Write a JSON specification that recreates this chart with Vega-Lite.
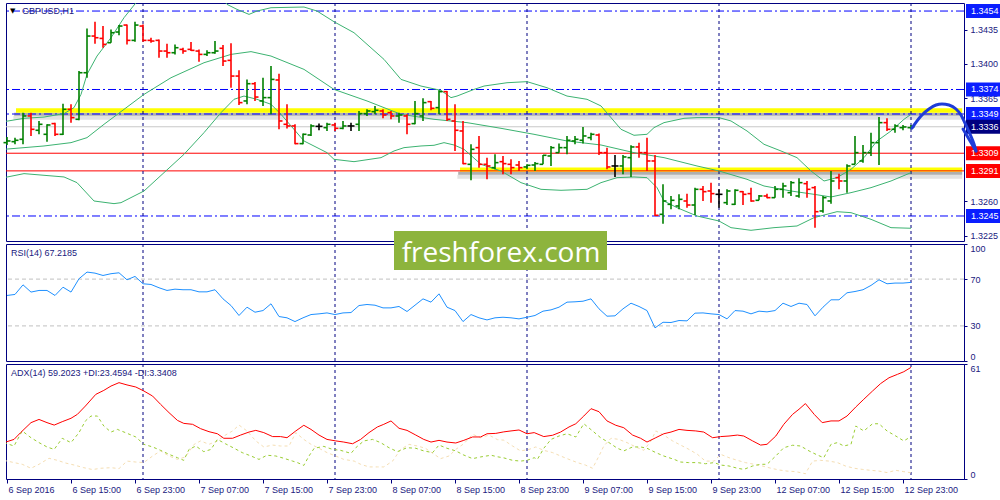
{
"$schema": "https://vega.github.io/schema/vega-lite/v6.json",
"padding": {"left": 2, "top": 2, "right": 0, "bottom": 0},
"background": "#ffffff",
"bounds": "flush",
"spacing": 3,
"config": {
  "font": "Liberation Sans",
  "view": {"stroke": "#000080", "strokeWidth": 1},
  "axis": {"labelFont": "Liberation Sans", "labelFontSize": 9, "labelColor": "#202080", "domainColor": "#000080", "tickColor": "#000080", "grid": false, "title": null, "labelOverlap": false, "labelBound": false}
},
"datasets": {
  "bars": [
    {"i":0,"o":1.33198,"h":1.33256,"l":1.33174,"c":1.33215},
    {"i":1,"o":1.33208,"h":1.33249,"l":1.33181,"c":1.33222},
    {"i":2,"o":1.33232,"h":1.33504,"l":1.33181,"c":1.33470},
    {"i":3,"o":1.33470,"h":1.33504,"l":1.33266,"c":1.33334},
    {"i":4,"o":1.33324,"h":1.33419,"l":1.33283,"c":1.33385},
    {"i":5,"o":1.33283,"h":1.33385,"l":1.33208,"c":1.33378},
    {"i":6,"o":1.33392,"h":1.33402,"l":1.33266,"c":1.33283},
    {"i":7,"o":1.33283,"h":1.33595,"l":1.33276,"c":1.33538},
    {"i":8,"o":1.33538,"h":1.33589,"l":1.33402,"c":1.33453},
    {"i":9,"o":1.33436,"h":1.33928,"l":1.33426,"c":1.33911},
    {"i":10,"o":1.33911,"h":1.34363,"l":1.33860,"c":1.34285},
    {"i":11,"o":1.34285,"h":1.34431,"l":1.34207,"c":1.34268},
    {"i":12,"o":1.34261,"h":1.34387,"l":1.34166,"c":1.34200},
    {"i":13,"o":1.34217,"h":1.34353,"l":1.34217,"c":1.34319},
    {"i":14,"o":1.34326,"h":1.34397,"l":1.34292,"c":1.34387},
    {"i":15,"o":1.34397,"h":1.34404,"l":1.34200,"c":1.34241},
    {"i":16,"o":1.34241,"h":1.34431,"l":1.34227,"c":1.34397},
    {"i":17,"o":1.34387,"h":1.34404,"l":1.34227,"c":1.34241},
    {"i":18,"o":1.34241,"h":1.34268,"l":1.34217,"c":1.34234},
    {"i":19,"o":1.34241,"h":1.34251,"l":1.34064,"c":1.34132},
    {"i":20,"o":1.34132,"h":1.34207,"l":1.34064,"c":1.34115},
    {"i":21,"o":1.34115,"h":1.34200,"l":1.34098,"c":1.34166},
    {"i":22,"o":1.34149,"h":1.34166,"l":1.34105,"c":1.34132},
    {"i":23,"o":1.34149,"h":1.34224,"l":1.34132,"c":1.34139},
    {"i":24,"o":1.34132,"h":1.34149,"l":1.34024,"c":1.34098},
    {"i":25,"o":1.34098,"h":1.34139,"l":1.34081,"c":1.34115},
    {"i":26,"o":1.34115,"h":1.34234,"l":1.34105,"c":1.34132},
    {"i":27,"o":1.34160,"h":1.34194,"l":1.33979,"c":1.34030},
    {"i":28,"o":1.34037,"h":1.34211,"l":1.33758,"c":1.33877},
    {"i":29,"o":1.33877,"h":1.33935,"l":1.33582,"c":1.33606},
    {"i":30,"o":1.33623,"h":1.33843,"l":1.33589,"c":1.33799},
    {"i":31,"o":1.33799,"h":1.33816,"l":1.33623,"c":1.33663},
    {"i":32,"o":1.33623,"h":1.33860,"l":1.33572,"c":1.33657},
    {"i":33,"o":1.33657,"h":1.33979,"l":1.33487,"c":1.33843},
    {"i":34,"o":1.33837,"h":1.33901,"l":1.33334,"c":1.33419},
    {"i":35,"o":1.33385,"h":1.33589,"l":1.33341,"c":1.33368},
    {"i":36,"o":1.33368,"h":1.33385,"l":1.33181,"c":1.33188},
    {"i":37,"o":1.33188,"h":1.33290,"l":1.33181,"c":1.33283},
    {"i":38,"o":1.33276,"h":1.33385,"l":1.33266,"c":1.33368},
    {"i":39,"o":1.33364,"h":1.33392,"l":1.33324,"c":1.33364},
    {"i":40,"o":1.33351,"h":1.33402,"l":1.33317,"c":1.33385},
    {"i":41,"o":1.33378,"h":1.33402,"l":1.33317,"c":1.33344},
    {"i":42,"o":1.33344,"h":1.33419,"l":1.33334,"c":1.33368},
    {"i":43,"o":1.33368,"h":1.33402,"l":1.33317,"c":1.33368},
    {"i":44,"o":1.33385,"h":1.33521,"l":1.33317,"c":1.33494},
    {"i":45,"o":1.33494,"h":1.33538,"l":1.33470,"c":1.33521},
    {"i":46,"o":1.33514,"h":1.33572,"l":1.33487,"c":1.33528},
    {"i":47,"o":1.33521,"h":1.33538,"l":1.33446,"c":1.33480},
    {"i":48,"o":1.33504,"h":1.33521,"l":1.33436,"c":1.33470},
    {"i":49,"o":1.33470,"h":1.33504,"l":1.33402,"c":1.33480},
    {"i":50,"o":1.33470,"h":1.33487,"l":1.33283,"c":1.33385},
    {"i":51,"o":1.33392,"h":1.33623,"l":1.33385,"c":1.33494},
    {"i":52,"o":1.33470,"h":1.33650,"l":1.33419,"c":1.33606},
    {"i":53,"o":1.33616,"h":1.33623,"l":1.33528,"c":1.33548},
    {"i":54,"o":1.33555,"h":1.33731,"l":1.33487,"c":1.33718},
    {"i":55,"o":1.33718,"h":1.33725,"l":1.33419,"c":1.33436},
    {"i":56,"o":1.33419,"h":1.33589,"l":1.33113,"c":1.33324},
    {"i":57,"o":1.33317,"h":1.33419,"l":1.32977,"c":1.32984},
    {"i":58,"o":1.32977,"h":1.33181,"l":1.32814,"c":1.33130},
    {"i":59,"o":1.33147,"h":1.33266,"l":1.32943,"c":1.32977},
    {"i":60,"o":1.32977,"h":1.33045,"l":1.32824,"c":1.32960},
    {"i":61,"o":1.32943,"h":1.33079,"l":1.32926,"c":1.32994},
    {"i":62,"o":1.33004,"h":1.33062,"l":1.32875,"c":1.32984},
    {"i":63,"o":1.32977,"h":1.33028,"l":1.32875,"c":1.32943},
    {"i":64,"o":1.32970,"h":1.33011,"l":1.32909,"c":1.32943},
    {"i":65,"o":1.32950,"h":1.32977,"l":1.32926,"c":1.32967},
    {"i":66,"o":1.32970,"h":1.33001,"l":1.32909,"c":1.32984},
    {"i":67,"o":1.32977,"h":1.33072,"l":1.32977,"c":1.33069},
    {"i":68,"o":1.33062,"h":1.33164,"l":1.32960,"c":1.33147},
    {"i":69,"o":1.33096,"h":1.33188,"l":1.33096,"c":1.33147},
    {"i":70,"o":1.33147,"h":1.33266,"l":1.33079,"c":1.33222},
    {"i":71,"o":1.33215,"h":1.33266,"l":1.33181,"c":1.33232},
    {"i":72,"o":1.33222,"h":1.33358,"l":1.33188,"c":1.33266},
    {"i":73,"o":1.33249,"h":1.33300,"l":1.33222,"c":1.33283},
    {"i":74,"o":1.33276,"h":1.33290,"l":1.33072,"c":1.33096},
    {"i":75,"o":1.33096,"h":1.33147,"l":1.32926,"c":1.32950},
    {"i":76,"o":1.32960,"h":1.33072,"l":1.32848,"c":1.32960},
    {"i":77,"o":1.32960,"h":1.33072,"l":1.32875,"c":1.33052},
    {"i":78,"o":1.33045,"h":1.33171,"l":1.32848,"c":1.33154},
    {"i":79,"o":1.33154,"h":1.33198,"l":1.33045,"c":1.33096},
    {"i":80,"o":1.33096,"h":1.33249,"l":1.32909,"c":1.33011},
    {"i":81,"o":1.33011,"h":1.33072,"l":1.32450,"c":1.32457},
    {"i":82,"o":1.32467,"h":1.32773,"l":1.32372,"c":1.32603},
    {"i":83,"o":1.32569,"h":1.32654,"l":1.32518,"c":1.32610},
    {"i":84,"o":1.32552,"h":1.32671,"l":1.32518,"c":1.32620},
    {"i":85,"o":1.32603,"h":1.32678,"l":1.32535,"c":1.32562},
    {"i":86,"o":1.32562,"h":1.32739,"l":1.32460,"c":1.32722},
    {"i":87,"o":1.32722,"h":1.32756,"l":1.32603,"c":1.32698},
    {"i":88,"o":1.32705,"h":1.32790,"l":1.32586,"c":1.32678},
    {"i":89,"o":1.32671,"h":1.32722,"l":1.32535,"c":1.32671},
    {"i":90,"o":1.32586,"h":1.32722,"l":1.32562,"c":1.32705},
    {"i":91,"o":1.32569,"h":1.32722,"l":1.32562,"c":1.32712},
    {"i":92,"o":1.32698,"h":1.32705,"l":1.32562,"c":1.32671},
    {"i":93,"o":1.32678,"h":1.32739,"l":1.32596,"c":1.32603},
    {"i":94,"o":1.32610,"h":1.32664,"l":1.32610,"c":1.32654},
    {"i":95,"o":1.32654,"h":1.32678,"l":1.32630,"c":1.32637},
    {"i":96,"o":1.32637,"h":1.32756,"l":1.32637,"c":1.32722},
    {"i":97,"o":1.32722,"h":1.32790,"l":1.32637,"c":1.32756},
    {"i":98,"o":1.32688,"h":1.32807,"l":1.32654,"c":1.32790},
    {"i":99,"o":1.32654,"h":1.32834,"l":1.32637,"c":1.32790},
    {"i":100,"o":1.32780,"h":1.32807,"l":1.32637,"c":1.32722},
    {"i":101,"o":1.32739,"h":1.32756,"l":1.32331,"c":1.32494},
    {"i":102,"o":1.32501,"h":1.32654,"l":1.32484,"c":1.32637},
    {"i":103,"o":1.32603,"h":1.32909,"l":1.32576,"c":1.32807},
    {"i":104,"o":1.32841,"h":1.32882,"l":1.32722,"c":1.32807},
    {"i":105,"o":1.32807,"h":1.32977,"l":1.32688,"c":1.32960},
    {"i":106,"o":1.32977,"h":1.33266,"l":1.32977,"c":1.33096},
    {"i":107,"o":1.33011,"h":1.33174,"l":1.32994,"c":1.33096},
    {"i":108,"o":1.33096,"h":1.33300,"l":1.33062,"c":1.33198},
    {"i":109,"o":1.33198,"h":1.33460,"l":1.32970,"c":1.33402},
    {"i":110,"o":1.33402,"h":1.33446,"l":1.33317,"c":1.33334},
    {"i":111,"o":1.33334,"h":1.33385,"l":1.33300,"c":1.33368},
    {"i":112,"o":1.33351,"h":1.33378,"l":1.33324,"c":1.33358},
    {"i":113,"o":1.33351,"h":1.33378,"l":1.33334,"c":1.33358}
  ],
  "bb": [
    {"b":"upper","i":-0.375,"p":1.33412},{"b":"upper","i":2.125,"p":1.33446},{"b":"upper","i":4.625,"p":1.33459},{"b":"upper","i":7.125,"p":1.33494},{"b":"upper","i":8.375,"p":1.33555},{"b":"upper","i":9.25,"p":1.3369},{"b":"upper","i":10,"p":1.33894},{"b":"upper","i":11.25,"p":1.34081},{"b":"upper","i":13,"p":1.34268},{"b":"upper","i":14.625,"p":1.34472},{"b":"upper","i":16.125,"p":1.34625},{"b":"upper","i":18.375,"p":1.34914},{"b":"upper","i":21.5,"p":1.3505},{"b":"upper","i":24.625,"p":1.34914},{"b":"upper","i":27.5,"p":1.34608},{"b":"upper","i":28.75,"p":1.34557},{"b":"upper","i":30.25,"p":1.34506},{"b":"upper","i":31.25,"p":1.3454},{"b":"upper","i":33,"p":1.34574},{"b":"upper","i":37.125,"p":1.34581},{"b":"upper","i":38.75,"p":1.3454},{"b":"upper","i":40.875,"p":1.34431},{"b":"upper","i":43.375,"p":1.34319},{"b":"upper","i":47.125,"p":1.34047},{"b":"upper","i":49.25,"p":1.33843},{"b":"upper","i":51.75,"p":1.33775},{"b":"upper","i":54.25,"p":1.33731},{"b":"upper","i":55.5,"p":1.33657},{"b":"upper","i":56.25,"p":1.33673},{"b":"upper","i":58.375,"p":1.33741},{"b":"upper","i":59.625,"p":1.33775},{"b":"upper","i":62.5,"p":1.33809},{"b":"upper","i":65,"p":1.3382},{"b":"upper","i":67.5,"p":1.33758},{"b":"upper","i":70,"p":1.33673},{"b":"upper","i":72.5,"p":1.3364},{"b":"upper","i":74.25,"p":1.33572},{"b":"upper","i":75.5,"p":1.33453},{"b":"upper","i":76.75,"p":1.33334},{"b":"upper","i":78.375,"p":1.33273},{"b":"upper","i":80,"p":1.33283},{"b":"upper","i":80.875,"p":1.33351},{"b":"upper","i":82.125,"p":1.33402},{"b":"upper","i":84.625,"p":1.33446},{"b":"upper","i":86.25,"p":1.33453},{"b":"upper","i":89,"p":1.33453},{"b":"upper","i":90.5,"p":1.33419},{"b":"upper","i":92.5,"p":1.33317},{"b":"upper","i":94.625,"p":1.33181},{"b":"upper","i":96.75,"p":1.33113},{"b":"upper","i":98.75,"p":1.33045},{"b":"upper","i":100.5,"p":1.32909},{"b":"upper","i":102.125,"p":1.32807},{"b":"upper","i":103.75,"p":1.32841},{"b":"upper","i":105.5,"p":1.32926},{"b":"upper","i":107.125,"p":1.33045},{"b":"upper","i":108.75,"p":1.33215},{"b":"upper","i":110.5,"p":1.33317},{"b":"upper","i":112.125,"p":1.33436},{"b":"upper","i":113,"p":1.33487},
    {"b":"middle","i":-0.375,"p":1.3313},{"b":"middle","i":2.125,"p":1.33147},{"b":"middle","i":4.625,"p":1.33164},{"b":"middle","i":8,"p":1.33198},{"b":"middle","i":10,"p":1.33249},{"b":"middle","i":12.125,"p":1.33385},{"b":"middle","i":17.125,"p":1.3369},{"b":"middle","i":20.5,"p":1.3386},{"b":"middle","i":24.625,"p":1.34013},{"b":"middle","i":28,"p":1.34098},{"b":"middle","i":30.5,"p":1.34126},{"b":"middle","i":33,"p":1.34081},{"b":"middle","i":37.125,"p":1.33945},{"b":"middle","i":40.875,"p":1.33741},{"b":"middle","i":45,"p":1.33623},{"b":"middle","i":49.25,"p":1.33487},{"b":"middle","i":53.375,"p":1.33436},{"b":"middle","i":57.5,"p":1.33402},{"b":"middle","i":61.75,"p":1.33344},{"b":"middle","i":65.875,"p":1.33283},{"b":"middle","i":70,"p":1.33215},{"b":"middle","i":74.25,"p":1.33174},{"b":"middle","i":78.375,"p":1.33096},{"b":"middle","i":82.125,"p":1.33045},{"b":"middle","i":86.25,"p":1.3296},{"b":"middle","i":89,"p":1.32909},{"b":"middle","i":92.5,"p":1.32824},{"b":"middle","i":94.625,"p":1.32756},{"b":"middle","i":98,"p":1.32705},{"b":"middle","i":100.875,"p":1.32671},{"b":"middle","i":103,"p":1.32644},{"b":"middle","i":105.5,"p":1.32688},{"b":"middle","i":108,"p":1.32739},{"b":"middle","i":110.5,"p":1.32807},{"b":"middle","i":113,"p":1.32892},
    {"b":"lower","i":-0.375,"p":1.32841},{"b":"lower","i":2.125,"p":1.32882},{"b":"lower","i":7.125,"p":1.32848},{"b":"lower","i":8.75,"p":1.3279},{"b":"lower","i":10.875,"p":1.32603},{"b":"lower","i":13.375,"p":1.32576},{"b":"lower","i":14.25,"p":1.32586},{"b":"lower","i":17.125,"p":1.32705},{"b":"lower","i":19.625,"p":1.32892},{"b":"lower","i":22.125,"p":1.33079},{"b":"lower","i":24.625,"p":1.333},{"b":"lower","i":26.75,"p":1.33504},{"b":"lower","i":28.375,"p":1.3364},{"b":"lower","i":29.625,"p":1.33673},{"b":"lower","i":31.25,"p":1.3364},{"b":"lower","i":33,"p":1.33589},{"b":"lower","i":34.25,"p":1.33487},{"b":"lower","i":37.125,"p":1.33215},{"b":"lower","i":40,"p":1.33096},{"b":"lower","i":40.875,"p":1.33028},{"b":"lower","i":43.375,"p":1.33004},{"b":"lower","i":46.75,"p":1.33045},{"b":"lower","i":48.375,"p":1.33113},{"b":"lower","i":49.625,"p":1.33147},{"b":"lower","i":51.75,"p":1.33164},{"b":"lower","i":53.375,"p":1.33171},{"b":"lower","i":54.625,"p":1.33198},{"b":"lower","i":55.875,"p":1.33174},{"b":"lower","i":57.125,"p":1.3313},{"b":"lower","i":59.25,"p":1.32977},{"b":"lower","i":61.75,"p":1.32909},{"b":"lower","i":64.25,"p":1.3279},{"b":"lower","i":66.75,"p":1.32722},{"b":"lower","i":69.25,"p":1.32712},{"b":"lower","i":72.5,"p":1.32722},{"b":"lower","i":74.25,"p":1.3279},{"b":"lower","i":76.25,"p":1.32841},{"b":"lower","i":78.375,"p":1.32848},{"b":"lower","i":80,"p":1.32841},{"b":"lower","i":81.25,"p":1.32739},{"b":"lower","i":82.125,"p":1.32603},{"b":"lower","i":83.75,"p":1.32535},{"b":"lower","i":86.25,"p":1.3245},{"b":"lower","i":89,"p":1.32399},{"b":"lower","i":90.5,"p":1.32331},{"b":"lower","i":93,"p":1.32304},{"b":"lower","i":95.875,"p":1.32331},{"b":"lower","i":98.75,"p":1.32348},{"b":"lower","i":100.875,"p":1.32433},{"b":"lower","i":103.75,"p":1.32494},{"b":"lower","i":105.5,"p":1.32484},{"b":"lower","i":108,"p":1.32416},{"b":"lower","i":110.5,"p":1.32331},{"b":"lower","i":113,"p":1.32325}
  ],
  "zones": [
    {"kind":"shadowA","x1":0.9,"x2":119.4,"top":1.33502,"bottom":1.33472},
    {"kind":"shadowB","x1":0.8,"x2":119.4,"top":1.33472,"bottom":1.33431},
    {"kind":"band","x1":1.125,"x2":119.4,"top":1.33548,"bottom":1.33502},
    {"kind":"shadowA","x1":56.4,"x2":119.4,"top":1.329,"bottom":1.3287},
    {"kind":"shadowB","x1":56.3,"x2":119.4,"top":1.3287,"bottom":1.32831},
    {"kind":"band","x1":56.625,"x2":119.4,"top":1.32945,"bottom":1.329}
  ],
  "days": [{"i":17},{"i":41},{"i":65},{"i":89},{"i":113}],
  "arrow": [
    {"seg":"curve","i":113.125,"p":1.33347},{"seg":"curve","i":114.25,"p":1.3347},{"seg":"curve","i":115.25,"p":1.33541},{"seg":"curve","i":116.125,"p":1.33582},{"seg":"curve","i":116.875,"p":1.33592},{"seg":"curve","i":117.75,"p":1.33582},{"seg":"curve","i":118.625,"p":1.33541},{"seg":"curve","i":119.25,"p":1.3348},{"seg":"curve","i":119.75,"p":1.33398},{"seg":"curve","i":120.375,"p":1.33286},{"seg":"curve","i":120.875,"p":1.33184},{"seg":"curve","i":121.125,"p":1.33113},
    {"seg":"head","i":119.5,"p":1.33337},{"seg":"head","i":121.125,"p":1.33113}
  ],
  "tags": [
    {"p":1.3454,"grp":"L","t":"1.3454"},
    {"p":1.3374,"grp":"L","t":"1.3374"},
    {"p":1.3349,"grp":"L","t":"1.3349"},
    {"p":1.3336,"grp":"B","t":"1.3336"},
    {"p":1.3309,"grp":"S","t":"1.3309"},
    {"p":1.3291,"grp":"S","t":"1.3291"},
    {"p":1.3245,"grp":"L","t":"1.3245"}
  ],
  "rsi": [
    {"i":0,"v":56.0},{"i":1,"v":56.9},{"i":2,"v":65.1},{"i":3,"v":58.9},{"i":4,"v":60.3},{"i":5,"v":60.3},{"i":6,"v":56.0},{"i":7,"v":63.1},{"i":8,"v":58.9},{"i":9,"v":70.3},
    {"i":10,"v":76.0},{"i":11,"v":75.1},{"i":12,"v":73.1},{"i":13,"v":74.6},{"i":14,"v":75.4},{"i":15,"v":69.4},{"i":16,"v":72.3},{"i":17,"v":66.0},{"i":18,"v":65.4},{"i":19,"v":62.6},
    {"i":20,"v":60.3},{"i":21,"v":61.4},{"i":22,"v":60.9},{"i":23,"v":60.9},{"i":24,"v":59.1},{"i":25,"v":59.1},{"i":26,"v":60.9},{"i":27,"v":53.1},{"i":28,"v":47.4},{"i":29,"v":38.9},
    {"i":30,"v":46.0},{"i":31,"v":41.7},{"i":32,"v":43.1},{"i":33,"v":48.9},{"i":34,"v":38.0},{"i":35,"v":36.9},{"i":36,"v":33.7},{"i":37,"v":36.9},{"i":38,"v":39.7},{"i":39,"v":40.3},
    {"i":40,"v":41.1},{"i":41,"v":39.7},{"i":42,"v":41.1},{"i":43,"v":41.4},{"i":44,"v":47.4},{"i":45,"v":48.3},{"i":46,"v":47.7},{"i":47,"v":45.4},{"i":48,"v":45.4},{"i":49,"v":46.6},
    {"i":50,"v":42.3},{"i":51,"v":47.7},{"i":52,"v":53.1},{"i":53,"v":50.3},{"i":54,"v":57.4},{"i":55,"v":46.0},{"i":56,"v":43.1},{"i":57,"v":33.7},{"i":58,"v":39.7},{"i":59,"v":36.9},
    {"i":60,"v":35.1},{"i":61,"v":36.9},{"i":62,"v":37.4},{"i":63,"v":36.9},{"i":64,"v":36.0},{"i":65,"v":37.4},{"i":66,"v":38.9},{"i":67,"v":42.6},{"i":68,"v":43.7},{"i":69,"v":46.0},
    {"i":70,"v":50.3},{"i":71,"v":50.6},{"i":72,"v":51.1},{"i":73,"v":53.1},{"i":74,"v":44.6},{"i":75,"v":38.3},{"i":76,"v":38.6},{"i":77,"v":44.6},{"i":78,"v":49.4},{"i":79,"v":46.6},
    {"i":80,"v":43.1},{"i":81,"v":28.3},{"i":82,"v":33.1},{"i":83,"v":32.9},{"i":84,"v":34.6},{"i":85,"v":34.3},{"i":86,"v":40.9},{"i":87,"v":41.1},{"i":88,"v":40.3},{"i":89,"v":39.7},
    {"i":90,"v":36.0},{"i":91,"v":43.1},{"i":92,"v":42.6},{"i":93,"v":40.3},{"i":94,"v":42.6},{"i":95,"v":42.0},{"i":96,"v":43.1},{"i":97,"v":49.4},{"i":98,"v":46.6},{"i":99,"v":49.4},
    {"i":100,"v":48.3},{"i":101,"v":38.6},{"i":102,"v":46.0},{"i":103,"v":52.3},{"i":104,"v":52.3},{"i":105,"v":58.3},{"i":106,"v":59.4},{"i":107,"v":60.9},{"i":108,"v":64.6},{"i":109,"v":69.4},
    {"i":110,"v":66.0},{"i":111,"v":66.6},{"i":112,"v":66.6},{"i":113,"v":67.2}
  ],
  "adx": [
    {"s":"ADX","i":-0.375,"v":19.3},{"s":"ADX","i":0.875,"v":21.0},{"s":"ADX","i":1.7,"v":24.6},{"s":"ADX","i":3,"v":29.9},{"s":"ADX","i":4,"v":31.6},{"s":"ADX","i":5,"v":29.9},{"s":"ADX","i":5.9,"v":28.6},{"s":"ADX","i":6.9,"v":30.4},{"s":"ADX","i":8,"v":32.2},{"s":"ADX","i":8.8,"v":34.3},{"s":"ADX","i":9.8,"v":38.7},{"s":"ADX","i":11.1,"v":44.9},{"s":"ADX","i":12.1,"v":47.0},{"s":"ADX","i":13,"v":49.3},{"s":"ADX","i":14,"v":51.1},{"s":"ADX","i":15,"v":49.9},{"s":"ADX","i":16.1,"v":48.8},{"s":"ADX","i":17.1,"v":46.7},{"s":"ADX","i":18.2,"v":44.0},{"s":"ADX","i":19.2,"v":39.6},{"s":"ADX","i":20.25,"v":35.2},{"s":"ADX","i":21.3,"v":31.1},{"s":"ADX","i":22.1,"v":29.5},{"s":"ADX","i":23.2,"v":29.0},{"s":"ADX","i":24.2,"v":26.7},{"s":"ADX","i":25.25,"v":25.1},{"s":"ADX","i":26.3,"v":24.0},{"s":"ADX","i":27.1,"v":21.6},{"s":"ADX","i":28.2,"v":21.6},{"s":"ADX","i":29.2,"v":23.3},{"s":"ADX","i":30.25,"v":24.9},{"s":"ADX","i":31.1,"v":25.8},{"s":"ADX","i":32.1,"v":24.6},{"s":"ADX","i":33.2,"v":22.5},{"s":"ADX","i":34.2,"v":22.5},{"s":"ADX","i":35,"v":21.9},{"s":"ADX","i":36.1,"v":25.5},{"s":"ADX","i":37.1,"v":28.5},{"s":"ADX","i":38,"v":26.3},{"s":"ADX","i":39,"v":23.3},{"s":"ADX","i":40,"v":21.0},{"s":"ADX","i":41.1,"v":20.2},{"s":"ADX","i":42.1,"v":19.6},{"s":"ADX","i":43.2,"v":18.7},{"s":"ADX","i":44.2,"v":21.0},{"s":"ADX","i":45.25,"v":24.6},{"s":"ADX","i":46.3,"v":27.6},{"s":"ADX","i":47.1,"v":29.0},{"s":"ADX","i":48,"v":30.8},{"s":"ADX","i":49,"v":26.9},{"s":"ADX","i":50,"v":25.8},{"s":"ADX","i":51.1,"v":23.3},{"s":"ADX","i":52.1,"v":21.0},{"s":"ADX","i":53,"v":19.6},{"s":"ADX","i":54,"v":20.5},{"s":"ADX","i":55,"v":19.6},{"s":"ADX","i":56.1,"v":19.1},{"s":"ADX","i":57.1,"v":20.5},{"s":"ADX","i":58.2,"v":22.3},{"s":"ADX","i":59.2,"v":22.3},{"s":"ADX","i":60,"v":24.0},{"s":"ADX","i":61.1,"v":24.2},{"s":"ADX","i":62.1,"v":25.0},{"s":"ADX","i":63,"v":25.5},{"s":"ADX","i":64,"v":26.0},{"s":"ADX","i":65,"v":24.0},{"s":"ADX","i":65.9,"v":24.6},{"s":"ADX","i":67.1,"v":22.5},{"s":"ADX","i":68.2,"v":23.2},{"s":"ADX","i":69.2,"v":24.9},{"s":"ADX","i":70.25,"v":27.6},{"s":"ADX","i":71.1,"v":29.3},{"s":"ADX","i":72.1,"v":33.4},{"s":"ADX","i":73,"v":37.3},{"s":"ADX","i":74,"v":35.7},{"s":"ADX","i":75,"v":30.8},{"s":"ADX","i":76.1,"v":28.5},{"s":"ADX","i":77.1,"v":27.2},{"s":"ADX","i":78.2,"v":23.3},{"s":"ADX","i":79.2,"v":21.6},{"s":"ADX","i":80,"v":19.6},{"s":"ADX","i":81.1,"v":21.9},{"s":"ADX","i":82.1,"v":24.0},{"s":"ADX","i":83,"v":24.9},{"s":"ADX","i":84,"v":26.3},{"s":"ADX","i":85,"v":25.8},{"s":"ADX","i":86.1,"v":25.5},{"s":"ADX","i":87.1,"v":24.9},{"s":"ADX","i":88.2,"v":21.9},{"s":"ADX","i":89.2,"v":22.5},{"s":"ADX","i":90.25,"v":22.8},{"s":"ADX","i":91.3,"v":23.3},{"s":"ADX","i":92.1,"v":22.8},{"s":"ADX","i":93.2,"v":20.2},{"s":"ADX","i":94.2,"v":18.0},{"s":"ADX","i":95,"v":18.4},{"s":"ADX","i":96.1,"v":22.8},{"s":"ADX","i":97.1,"v":29.0},{"s":"ADX","i":98.2,"v":34.3},{"s":"ADX","i":99,"v":37.0},{"s":"ADX","i":99.8,"v":40.0},{"s":"ADX","i":100.9,"v":34.3},{"s":"ADX","i":101.9,"v":29.9},{"s":"ADX","i":103,"v":30.8},{"s":"ADX","i":104,"v":30.8},{"s":"ADX","i":105,"v":33.4},{"s":"ADX","i":106.1,"v":38.2},{"s":"ADX","i":107.1,"v":42.3},{"s":"ADX","i":108.2,"v":46.7},{"s":"ADX","i":109.2,"v":50.6},{"s":"ADX","i":110.25,"v":53.7},{"s":"ADX","i":111.3,"v":55.5},{"s":"ADX","i":112.1,"v":56.9},{"s":"ADX","i":113,"v":59.2},
    {"s":"+DI","i":-0.375,"v":19.3},{"s":"+DI","i":0.875,"v":17.5},{"s":"+DI","i":1.9,"v":25.5},{"s":"+DI","i":3,"v":21.9},{"s":"+DI","i":4,"v":19.3},{"s":"+DI","i":5,"v":17.0},{"s":"+DI","i":5.9,"v":15.7},{"s":"+DI","i":6.9,"v":21.6},{"s":"+DI","i":8,"v":19.3},{"s":"+DI","i":9,"v":24.6},{"s":"+DI","i":9.8,"v":30.8},{"s":"+DI","i":10.5,"v":33.4},{"s":"+DI","i":11.3,"v":33.4},{"s":"+DI","i":12.1,"v":28.1},{"s":"+DI","i":13,"v":24.9},{"s":"+DI","i":13.8,"v":26.3},{"s":"+DI","i":14.8,"v":24.6},{"s":"+DI","i":16.1,"v":22.3},{"s":"+DI","i":17.1,"v":18.4},{"s":"+DI","i":18.2,"v":17.0},{"s":"+DI","i":19.2,"v":15.2},{"s":"+DI","i":20.25,"v":13.1},{"s":"+DI","i":21.3,"v":11.3},{"s":"+DI","i":22.1,"v":9.9},{"s":"+DI","i":22.75,"v":15.7},{"s":"+DI","i":23.6,"v":17.5},{"s":"+DI","i":24.6,"v":14.5},{"s":"+DI","i":25.5,"v":15.7},{"s":"+DI","i":26.3,"v":21.0},{"s":"+DI","i":27.3,"v":18.7},{"s":"+DI","i":28.4,"v":16.3},{"s":"+DI","i":29.4,"v":14.0},{"s":"+DI","i":30.5,"v":12.2},{"s":"+DI","i":31.5,"v":10.4},{"s":"+DI","i":32.5,"v":12.6},{"s":"+DI","i":33.6,"v":12.2},{"s":"+DI","i":34.6,"v":11.0},{"s":"+DI","i":35.7,"v":9.5},{"s":"+DI","i":36.3,"v":8.7},{"s":"+DI","i":37.1,"v":7.2},{"s":"+DI","i":37.75,"v":12.2},{"s":"+DI","i":38.4,"v":16.3},{"s":"+DI","i":39.6,"v":17.3},{"s":"+DI","i":40.7,"v":15.7},{"s":"+DI","i":41.7,"v":15.2},{"s":"+DI","i":43,"v":13.6},{"s":"+DI","i":43.6,"v":16.6},{"s":"+DI","i":44.6,"v":20.2},{"s":"+DI","i":45.7,"v":21.0},{"s":"+DI","i":46.7,"v":19.3},{"s":"+DI","i":47.75,"v":16.6},{"s":"+DI","i":48.8,"v":14.5},{"s":"+DI","i":50,"v":16.6},{"s":"+DI","i":51.1,"v":16.3},{"s":"+DI","i":52.1,"v":14.9},{"s":"+DI","i":53.2,"v":14.0},{"s":"+DI","i":54,"v":18.0},{"s":"+DI","i":55,"v":16.3},{"s":"+DI","i":56.1,"v":14.9},{"s":"+DI","i":57.1,"v":12.7},{"s":"+DI","i":58.2,"v":10.8},{"s":"+DI","i":59.2,"v":11.7},{"s":"+DI","i":60.5,"v":12.6},{"s":"+DI","i":61.3,"v":11.8},{"s":"+DI","i":62.1,"v":11.2},{"s":"+DI","i":63.2,"v":9.9},{"s":"+DI","i":64.2,"v":9.5},{"s":"+DI","i":65,"v":9.9},{"s":"+DI","i":65.9,"v":11.3},{"s":"+DI","i":66.3,"v":10.4},{"s":"+DI","i":67.1,"v":16.3},{"s":"+DI","i":68,"v":21.0},{"s":"+DI","i":69,"v":22.8},{"s":"+DI","i":70,"v":24.0},{"s":"+DI","i":71.1,"v":22.3},{"s":"+DI","i":72.1,"v":29.3},{"s":"+DI","i":73.2,"v":25.5},{"s":"+DI","i":74.2,"v":21.9},{"s":"+DI","i":75.25,"v":19.3},{"s":"+DI","i":76.3,"v":16.3},{"s":"+DI","i":77.1,"v":14.9},{"s":"+DI","i":78.2,"v":17.0},{"s":"+DI","i":79.2,"v":17.0},{"s":"+DI","i":80,"v":16.3},{"s":"+DI","i":81.1,"v":14.0},{"s":"+DI","i":82.1,"v":12.2},{"s":"+DI","i":83.4,"v":10.4},{"s":"+DI","i":84.2,"v":9.0},{"s":"+DI","i":85.2,"v":8.7},{"s":"+DI","i":86.3,"v":8.7},{"s":"+DI","i":87.3,"v":8.1},{"s":"+DI","i":88.4,"v":8.7},{"s":"+DI","i":89.2,"v":7.4},{"s":"+DI","i":90.25,"v":6.9},{"s":"+DI","i":91.3,"v":5.7},{"s":"+DI","i":92.1,"v":5.1},{"s":"+DI","i":93.2,"v":6.9},{"s":"+DI","i":94.2,"v":7.8},{"s":"+DI","i":95,"v":7.8},{"s":"+DI","i":96.1,"v":12.2},{"s":"+DI","i":97.1,"v":16.6},{"s":"+DI","i":98.2,"v":17.9},{"s":"+DI","i":99.2,"v":17.5},{"s":"+DI","i":100.25,"v":14.9},{"s":"+DI","i":101.3,"v":12.7},{"s":"+DI","i":102.1,"v":11.3},{"s":"+DI","i":103,"v":18.4},{"s":"+DI","i":103.8,"v":19.3},{"s":"+DI","i":104.6,"v":17.5},{"s":"+DI","i":105.5,"v":18.4},{"s":"+DI","i":106.1,"v":28.1},{"s":"+DI","i":107.1,"v":25.5},{"s":"+DI","i":108.2,"v":29.3},{"s":"+DI","i":109,"v":29.3},{"s":"+DI","i":110,"v":25.5},{"s":"+DI","i":111.1,"v":22.8},{"s":"+DI","i":112.1,"v":20.2},{"s":"+DI","i":113,"v":22.5},
    {"s":"-DI","i":-0.375,"v":9.9},{"s":"-DI","i":0.875,"v":8.7},{"s":"-DI","i":1.9,"v":7.8},{"s":"-DI","i":3,"v":5.7},{"s":"-DI","i":4,"v":7.8},{"s":"-DI","i":5.25,"v":11.0},{"s":"-DI","i":6.3,"v":9.9},{"s":"-DI","i":7.3,"v":8.5},{"s":"-DI","i":8.4,"v":7.4},{"s":"-DI","i":9.6,"v":6.0},{"s":"-DI","i":10.7,"v":5.0},{"s":"-DI","i":11.7,"v":5.7},{"s":"-DI","i":13,"v":6.0},{"s":"-DI","i":14,"v":5.5},{"s":"-DI","i":15,"v":9.5},{"s":"-DI","i":16.1,"v":9.0},{"s":"-DI","i":17.1,"v":8.7},{"s":"-DI","i":18.2,"v":12.2},{"s":"-DI","i":19.2,"v":14.9},{"s":"-DI","i":20.25,"v":12.2},{"s":"-DI","i":21.3,"v":10.4},{"s":"-DI","i":22.3,"v":11.7},{"s":"-DI","i":23.4,"v":18.4},{"s":"-DI","i":24.2,"v":20.2},{"s":"-DI","i":25.25,"v":18.4},{"s":"-DI","i":26.3,"v":20.2},{"s":"-DI","i":27.1,"v":22.8},{"s":"-DI","i":28.2,"v":25.5},{"s":"-DI","i":29,"v":28.6},{"s":"-DI","i":30,"v":25.5},{"s":"-DI","i":31.1,"v":20.2},{"s":"-DI","i":32.1,"v":17.0},{"s":"-DI","i":33.2,"v":18.0},{"s":"-DI","i":34.2,"v":17.5},{"s":"-DI","i":35.25,"v":17.5},{"s":"-DI","i":36.1,"v":24.6},{"s":"-DI","i":37.1,"v":21.0},{"s":"-DI","i":38,"v":18.4},{"s":"-DI","i":39,"v":16.3},{"s":"-DI","i":40,"v":14.0},{"s":"-DI","i":41.1,"v":12.2},{"s":"-DI","i":42.1,"v":10.4},{"s":"-DI","i":43.4,"v":9.5},{"s":"-DI","i":44.2,"v":7.8},{"s":"-DI","i":45.25,"v":6.4},{"s":"-DI","i":46.3,"v":6.4},{"s":"-DI","i":47.1,"v":6.4},{"s":"-DI","i":48.2,"v":9.5},{"s":"-DI","i":49.2,"v":15.7},{"s":"-DI","i":50.25,"v":18.4},{"s":"-DI","i":51.3,"v":17.5},{"s":"-DI","i":52.3,"v":16.3},{"s":"-DI","i":53.4,"v":13.1},{"s":"-DI","i":54.2,"v":10.8},{"s":"-DI","i":55.25,"v":12.2},{"s":"-DI","i":56.1,"v":15.7},{"s":"-DI","i":57.1,"v":18.7},{"s":"-DI","i":58.2,"v":23.7},{"s":"-DI","i":59.2,"v":21.9},{"s":"-DI","i":60.25,"v":23.3},{"s":"-DI","i":61.3,"v":20.9},{"s":"-DI","i":62.1,"v":20.6},{"s":"-DI","i":63.2,"v":17.5},{"s":"-DI","i":64.2,"v":14.9},{"s":"-DI","i":65.25,"v":15.7},{"s":"-DI","i":66.1,"v":17.0},{"s":"-DI","i":67.1,"v":15.2},{"s":"-DI","i":68.2,"v":14.0},{"s":"-DI","i":69.2,"v":12.2},{"s":"-DI","i":70.25,"v":10.4},{"s":"-DI","i":71.3,"v":8.7},{"s":"-DI","i":72.3,"v":7.4},{"s":"-DI","i":73.2,"v":5.7},{"s":"-DI","i":74,"v":12.2},{"s":"-DI","i":74.6,"v":17.5},{"s":"-DI","i":75.5,"v":21.6},{"s":"-DI","i":76.5,"v":21.0},{"s":"-DI","i":77.5,"v":19.3},{"s":"-DI","i":78.6,"v":17.0},{"s":"-DI","i":79.6,"v":15.2},{"s":"-DI","i":80.5,"v":20.2},{"s":"-DI","i":81.1,"v":25.5},{"s":"-DI","i":82.1,"v":23.3},{"s":"-DI","i":83.2,"v":20.2},{"s":"-DI","i":84.2,"v":18.0},{"s":"-DI","i":85.25,"v":15.7},{"s":"-DI","i":86.3,"v":13.1},{"s":"-DI","i":87.3,"v":9.5},{"s":"-DI","i":88.4,"v":9.5},{"s":"-DI","i":89.2,"v":13.1},{"s":"-DI","i":90.25,"v":11.3},{"s":"-DI","i":91.3,"v":9.9},{"s":"-DI","i":92.3,"v":8.7},{"s":"-DI","i":93.4,"v":7.8},{"s":"-DI","i":94.4,"v":6.9},{"s":"-DI","i":95.5,"v":5.7},{"s":"-DI","i":96.5,"v":4.8},{"s":"-DI","i":97.5,"v":4.2},{"s":"-DI","i":98.6,"v":3.9},{"s":"-DI","i":99.8,"v":2.8},{"s":"-DI","i":100.7,"v":9.5},{"s":"-DI","i":101.7,"v":9.9},{"s":"-DI","i":102.75,"v":9.5},{"s":"-DI","i":103.8,"v":8.7},{"s":"-DI","i":104.8,"v":6.9},{"s":"-DI","i":105.9,"v":5.7},{"s":"-DI","i":106.9,"v":5.1},{"s":"-DI","i":108,"v":4.6},{"s":"-DI","i":109,"v":4.2},{"s":"-DI","i":110,"v":3.4},{"s":"-DI","i":111.1,"v":4.6},{"s":"-DI","i":112.1,"v":3.9},{"s":"-DI","i":113,"v":3.3}
  ]
},
"vconcat": [
  {
    "width": 958, "height": 238,
    "layer": [
      {"data": {"name": "zones"}, "transform": [{"filter": "datum.kind == 'shadowB'"}],
       "mark": {"type": "rect", "color": "#8a8a8a", "opacity": 0.25},
       "encoding": {
         "x": {"field": "x1", "type": "quantitative", "scale": {"domain": [-0.125, 119.625], "nice": false, "zero": false}, "axis": null},
         "x2": {"field": "x2"},
         "y": {"field": "top", "type": "quantitative", "scale": {"domain": [1.32195, 1.34622], "nice": false, "zero": false},
               "axis": {"orient": "right", "values": [1.3435, 1.34, 1.3365, 1.326, 1.3225], "format": ".4f", "tickSize": 3, "labelPadding": 3, "domain": false}},
         "y2": {"field": "bottom"}}},
      {"data": {"name": "zones"}, "transform": [{"filter": "datum.kind == 'shadowA'"}],
       "mark": {"type": "rect", "color": "#606060", "opacity": 0.5},
       "encoding": {"x": {"field": "x1", "type": "quantitative"}, "x2": {"field": "x2"}, "y": {"field": "top", "type": "quantitative"}, "y2": {"field": "bottom"}}},
      {"data": {"name": "zones"}, "transform": [{"filter": "datum.kind == 'band'"}],
       "mark": {"type": "rect", "color": "#ffff00"},
       "encoding": {"x": {"field": "x1", "type": "quantitative"}, "x2": {"field": "x2"}, "y": {"field": "top", "type": "quantitative"}, "y2": {"field": "bottom"}}},
      {"data": {"values": [{"p": 1.3336}]},
       "mark": {"type": "rule", "color": "#c8c8c8", "strokeWidth": 1},
       "encoding": {"y": {"field": "p", "type": "quantitative"}}},
      {"data": {"values": [{"p": 1.3454}, {"p": 1.3374}, {"p": 1.3349}, {"p": 1.3245}]},
       "mark": {"type": "rule", "color": "#0000ff", "strokeWidth": 1, "strokeDash": [8, 3, 2, 3]},
       "encoding": {"y": {"field": "p", "type": "quantitative"}}},
      {"data": {"values": [{"p": 1.3309}, {"p": 1.3291}]},
       "mark": {"type": "rule", "color": "#ff0000", "strokeWidth": 1},
       "encoding": {"y": {"field": "p", "type": "quantitative"}}},
      {"data": {"name": "days"},
       "mark": {"type": "rule", "color": "#000080", "strokeWidth": 1, "strokeDash": [3, 3]},
       "encoding": {"x": {"field": "i", "type": "quantitative"}}},
      {"data": {"name": "bb"},
       "mark": {"type": "line", "color": "#3cb371", "strokeWidth": 1, "clip": true},
       "encoding": {"x": {"field": "i", "type": "quantitative"}, "y": {"field": "p", "type": "quantitative"}, "detail": {"field": "b"}}},
      {"data": {"name": "bars"},
       "mark": {"type": "rule", "strokeWidth": 1.6},
       "encoding": {"x": {"field": "i", "type": "quantitative"}, "y": {"field": "h", "type": "quantitative"}, "y2": {"field": "l"},
         "color": {"condition": [{"test": "datum.c > datum.o", "value": "#008000"}, {"test": "datum.c < datum.o", "value": "#ff0000"}], "value": "#000000"}}},
      {"data": {"name": "bars"},
       "mark": {"type": "rule", "strokeWidth": 1.6, "xOffset": -3.5, "x2Offset": 0},
       "encoding": {"x": {"field": "i", "type": "quantitative"}, "x2": {"field": "i"}, "y": {"field": "o", "type": "quantitative"},
         "color": {"condition": [{"test": "datum.c > datum.o", "value": "#008000"}, {"test": "datum.c < datum.o", "value": "#ff0000"}], "value": "#000000"}}},
      {"data": {"name": "bars"},
       "mark": {"type": "rule", "strokeWidth": 1.6, "xOffset": 0, "x2Offset": 3.5},
       "encoding": {"x": {"field": "i", "type": "quantitative"}, "x2": {"field": "i"}, "y": {"field": "c", "type": "quantitative"},
         "color": {"condition": [{"test": "datum.c > datum.o", "value": "#008000"}, {"test": "datum.c < datum.o", "value": "#ff0000"}], "value": "#000000"}}},
      {"data": {"name": "tags"},
       "mark": {"type": "rule", "strokeWidth": 14, "clip": false},
       "encoding": {"x": {"datum": 119.875}, "x2": {"datum": 124.6}, "y": {"field": "p", "type": "quantitative"},
         "color": {"field": "grp", "type": "nominal", "scale": {"domain": ["L", "S", "B"], "range": ["#0a1eff", "#ff0000", "#000080"]}, "legend": null}}},
      {"data": {"name": "tags"},
       "mark": {"type": "text", "color": "#ffffff", "align": "left", "baseline": "middle", "fontSize": 9, "font": "Liberation Sans", "clip": false},
       "encoding": {"x": {"datum": 120.5}, "y": {"field": "p", "type": "quantitative"}, "text": {"field": "t"}}},
      {"data": {"name": "arrow"},
       "mark": {"type": "line", "color": "#1e3cd8", "strokeWidth": 3, "strokeCap": "round", "strokeJoin": "round", "clip": false, "interpolate": "monotone"},
       "encoding": {"x": {"field": "i", "type": "quantitative"}, "y": {"field": "p", "type": "quantitative"}, "detail": {"field": "seg"}}},
      {"data": {"values": [{"i": 0.7, "p": 1.3454, "t": "▼"}]},
       "mark": {"type": "text", "color": "#000000", "align": "center", "baseline": "middle", "fontSize": 7, "font": "DejaVu Sans"},
       "encoding": {"x": {"field": "i", "type": "quantitative"}, "y": {"field": "p", "type": "quantitative"}, "text": {"field": "t"}}},
      {"data": {"values": [{"i": 1.875, "p": 1.3454, "t": "GBPUSD,H1"}]},
       "mark": {"type": "text", "color": "#202080", "align": "left", "baseline": "middle", "fontSize": 9, "font": "Liberation Sans"},
       "encoding": {"x": {"field": "i", "type": "quantitative"}, "y": {"field": "p", "type": "quantitative"}, "text": {"field": "t"}}}
    ]
  },
  {
    "width": 958, "height": 117,
    "layer": [
      {"data": {"values": [{"v": 70}, {"v": 30}]},
       "mark": {"type": "rule", "color": "#c0c0c0", "strokeWidth": 1, "strokeDash": [4, 3]},
       "encoding": {"y": {"field": "v", "type": "quantitative", "scale": {"domain": [0, 100], "nice": false, "zero": false},
         "axis": {"orient": "right", "values": [0, 30, 70, 100], "tickSize": 3, "labelPadding": 3, "labelFlush": true}}}},
      {"data": {"name": "days"},
       "mark": {"type": "rule", "color": "#000080", "strokeWidth": 1, "strokeDash": [3, 3]},
       "encoding": {"x": {"field": "i", "type": "quantitative", "scale": {"domain": [-0.125, 119.625], "nice": false, "zero": false}, "axis": null}}},
      {"data": {"name": "rsi"},
       "mark": {"type": "line", "color": "#1e90ff", "strokeWidth": 1, "clip": true},
       "encoding": {"x": {"field": "i", "type": "quantitative"},
         "y": {"field": "v", "type": "quantitative", "axis": {"orient": "right", "values": [0, 30, 70, 100], "tickSize": 3, "labelPadding": 3, "labelFlush": true}}}},
      {"data": {"values": [{"i": 0.5, "v": 92.3, "t": "RSI(14) 67.2185"}]},
       "mark": {"type": "text", "color": "#202080", "align": "left", "baseline": "middle", "fontSize": 9, "font": "Liberation Sans"},
       "encoding": {"x": {"field": "i", "type": "quantitative"},
         "y": {"field": "v", "type": "quantitative", "axis": {"orient": "right", "values": [0, 30, 70, 100], "tickSize": 3, "labelPadding": 3, "labelFlush": true}}, "text": {"field": "t"}}},
      {"data": {"values": [{"x1": 48.375, "x2": 75.0, "top": 111.1, "bottom": 77.8}]},
       "mark": {"type": "rect", "color": "#8db43d", "clip": false},
       "encoding": {"x": {"field": "x1", "type": "quantitative"}, "x2": {"field": "x2"},
         "y": {"field": "top", "type": "quantitative", "axis": {"orient": "right", "values": [0, 30, 70, 100], "tickSize": 3, "labelPadding": 3, "labelFlush": true}}, "y2": {"field": "bottom"}}},
      {"data": {"values": [{"i": 61.75, "v": 84.9, "t": "freshforex.com"}]},
       "mark": {"type": "text", "color": "#ffffff", "align": "center", "baseline": "alphabetic", "fontSize": 28, "font": "Open Sans", "clip": false},
       "encoding": {"x": {"field": "i", "type": "quantitative"},
         "y": {"field": "v", "type": "quantitative", "axis": {"orient": "right", "values": [0, 30, 70, 100], "tickSize": 3, "labelPadding": 3, "labelFlush": true}}, "text": {"field": "t"}}}
    ]
  },
  {
    "width": 958, "height": 115,
    "layer": [
      {"data": {"name": "days"},
       "mark": {"type": "rule", "color": "#000080", "strokeWidth": 1, "strokeDash": [3, 3]},
       "encoding": {"x": {"field": "i", "type": "quantitative", "scale": {"domain": [-0.125, 119.625], "nice": false, "zero": false},
         "axis": {"orient": "bottom", "values": [0, 8, 16, 24, 32, 40, 48, 56, 64, 72, 80, 88, 96, 104, 112],
           "labelExpr": "['6 Sep 2016','6 Sep 15:00','6 Sep 23:00','7 Sep 07:00','7 Sep 15:00','7 Sep 23:00','8 Sep 07:00','8 Sep 15:00','8 Sep 23:00','9 Sep 07:00','9 Sep 15:00','9 Sep 23:00','12 Sep 07:00','12 Sep 15:00','12 Sep 23:00'][round(datum.value / 8)]",
           "tickSize": 4, "labelAlign": "left", "labelBaseline": "top", "labelPadding": 2, "labelOffset": 1, "labelFlush": false, "domain": false}}}},
      {"data": {"name": "adx"}, "transform": [{"filter": "datum.s == '-DI'"}],
       "mark": {"type": "line", "color": "#f5deb3", "strokeWidth": 1, "strokeDash": [3, 3], "clip": true},
       "encoding": {"x": {"field": "i", "type": "quantitative"},
         "y": {"field": "v", "type": "quantitative", "scale": {"domain": [0, 61], "nice": false, "zero": false},
           "axis": {"orient": "right", "values": [0, 61], "tickSize": 3, "labelPadding": 3, "labelFlush": true}}}},
      {"data": {"name": "adx"}, "transform": [{"filter": "datum.s == '+DI'"}],
       "mark": {"type": "line", "color": "#9acd32", "strokeWidth": 1, "strokeDash": [3, 3], "clip": true},
       "encoding": {"x": {"field": "i", "type": "quantitative"}, "y": {"field": "v", "type": "quantitative"}}},
      {"data": {"name": "adx"}, "transform": [{"filter": "datum.s == 'ADX'"}],
       "mark": {"type": "line", "color": "#ff0000", "strokeWidth": 1, "clip": true},
       "encoding": {"x": {"field": "i", "type": "quantitative"}, "y": {"field": "v", "type": "quantitative"}}},
      {"data": {"values": [{"i": 0.5, "v": 56.2, "t": "ADX(14) 59.2023 +DI:23.4594 -DI:3.3408"}]},
       "mark": {"type": "text", "color": "#202080", "align": "left", "baseline": "middle", "fontSize": 9, "font": "Liberation Sans"},
       "encoding": {"x": {"field": "i", "type": "quantitative"}, "y": {"field": "v", "type": "quantitative"}, "text": {"field": "t"}}}
    ]
  }
]
}
